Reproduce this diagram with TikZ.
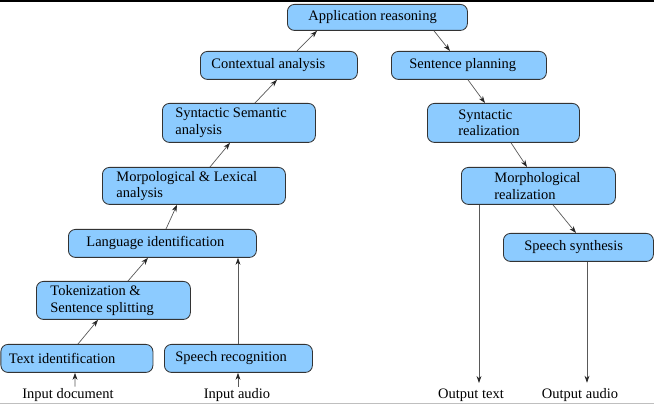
\documentclass[tikz,border=0pt]{standalone}
\usepackage{fontspec}
\setmainfont{Liberation Serif}
\usetikzlibrary{arrows.meta,calc}
\definecolor{boxblue}{RGB}{140,203,255}

\begin{document}
\begin{tikzpicture}[x=0.025cm,y=-0.025cm,
  stage/.style={draw=black!80, line width=0.6pt, fill=boxblue, rounded corners=5pt,
    anchor=north west, align=flush left, inner ysep=0pt, font=\fontsize{10.3}{11.8}\selectfont},
  size/.style n args={3}{minimum width=#1*0.025cm, minimum height=#2*0.025cm,
    inner xsep=#3*0.025cm, text width=(#1-2*#3)*0.025cm},
  flow/.style={draw=black!65, line width=0.5pt, -{Stealth[length=5pt,width=3.5pt,black!85]}},
  io/.style={inner sep=1pt, font=\fontsize{10.3}{11.8}\selectfont}]
  \useasboundingbox (0,0) rectangle (654,405);
  % Frame
  \fill[black] (0,0) rectangle (654,2.5);
  \draw[black!25, line width=0.6pt] (0,403.5) -- (654,403.5);

  % Analysis side
  \node[stage, size={180}{26}{21}] (app) at (287,4) {Application reasoning};
  \node[stage, size={157}{28}{11}] (ctx) at (200,51) {Contextual analysis};
  \node[stage, size={153}{39}{13}] (synsem) at (162,103) {Syntactic Semantic\\analysis};
  \node[stage, size={183}{37}{14}] (morlex) at (102,167) {Morpological \& Lexical\\analysis};
  \node[stage, size={188}{28}{18}] (lang) at (68,229) {Language identification};
  \node[stage, size={154}{38}{14}] (token) at (36,281) {Tokenization \&\\Sentence splitting};
  \node[stage, size={152}{28}{8}] (txtid) at (0.5,344) {Text identification};
  \node[stage, size={148}{28}{11}] (speech) at (164,344) {Speech recognition};

  % Generation side
  \node[stage, size={155}{28}{18}] (plan) at (391,51) {Sentence planning};
  \node[stage, size={152}{39}{31}] (synreal) at (427,103) {Syntactic\\realization};
  \node[stage, size={154}{37}{33}] (morreal) at (461,167) {Morphological\\realization};
  \node[stage, size={150}{28}{21}] (synth) at (503,233) {Speech synthesis};

  % Inputs and outputs
  \node[io] (indoc) at (68,395) {Input document};
  \node[io] (inaudio) at (237,395) {Input audio};
  \node[io] (outtext) at (471,395) {Output text};
  \node[io] (outaudio) at (580,395) {Output audio};

  % Arrows
  \draw[flow] ($(indoc.north)+(7,0)$) -- ($(txtid.south west)+(74.5,0)$);
  \draw[flow] ($(inaudio.north)+(1,0)$) -- ($(speech.south west)+(74,0)$);
  \draw[flow] ($(txtid.north west)+(77.5,0)$) -- ($(token.south west)+(62,0)$);
  \draw[flow] ($(token.north west)+(92,0)$) -- ($(lang.south west)+(80,0)$);
  \draw[flow] ($(speech.north west)+(74,0)$) -- ($(lang.south west)+(170,0)$);
  \draw[flow] ($(lang.north west)+(98,0)$) -- ($(morlex.south west)+(75,0)$);
  \draw[flow] ($(morlex.north west)+(108,0)$) -- ($(synsem.south west)+(68,0)$);
  \draw[flow] ($(synsem.north west)+(93,0)$) -- ($(ctx.south west)+(77,0)$);
  \draw[flow] ($(ctx.north west)+(97,0)$) -- ($(app.south west)+(30,0)$);
  \draw[flow] ($(app.south west)+(147,0)$) -- ($(plan.north west)+(59,0)$);
  \draw[flow] ($(plan.south west)+(77,0)$) -- ($(synreal.north west)+(58,0)$);
  \draw[flow] ($(synreal.south west)+(84,0)$) -- ($(morreal.north west)+(66,0)$);
  \draw[flow] ($(morreal.south west)+(92,0)$) -- ($(synth.north west)+(73,0)$);
  \draw[flow] ($(morreal.south west)+(18,0)$) -- ($(outtext.north)+(8,-4)$);
  \draw[flow] ($(synth.south west)+(84,0)$) -- ($(outaudio.north)+(7,-4)$);
\end{tikzpicture}
\end{document}
